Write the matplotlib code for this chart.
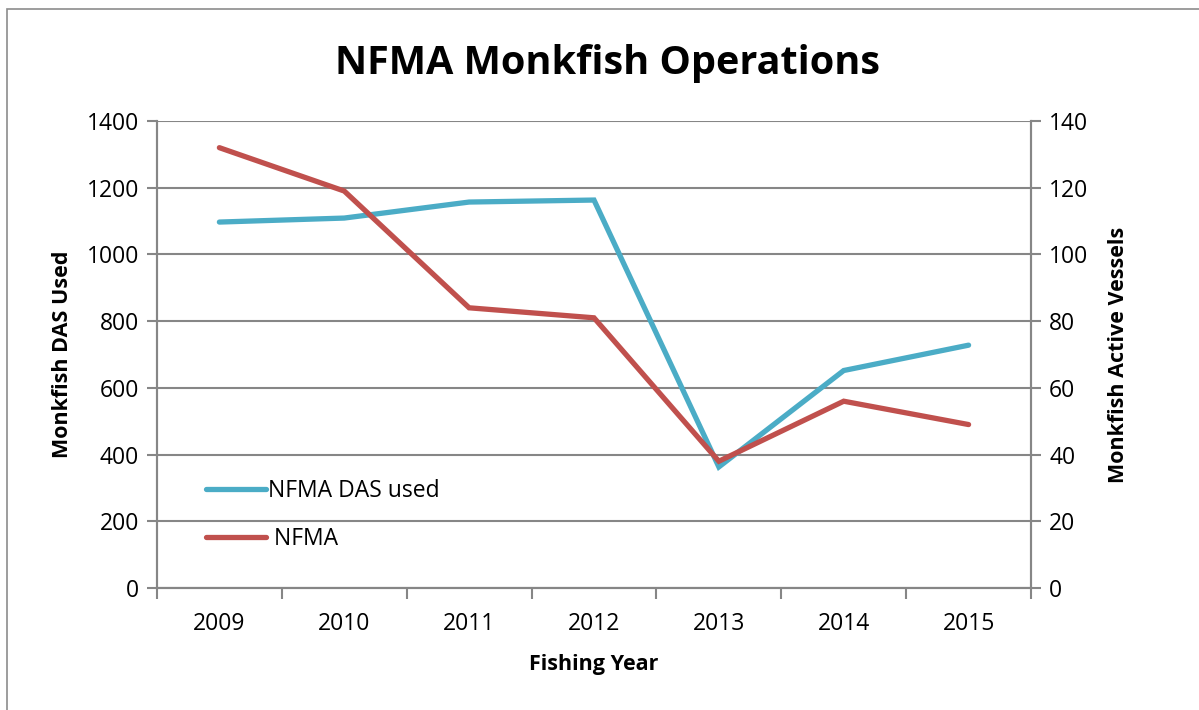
import matplotlib.pyplot as plt
import matplotlib.patches as mpatches
from matplotlib.ticker import FixedLocator, NullFormatter

plt.rcParams['font.family'] = ['Open Sans', 'DejaVu Sans']

years = ['2009', '2010', '2011', '2012', '2013', '2014', '2015']
das_used = [1097, 1109, 1157, 1163, 363, 652, 728]
active_vessels = [132, 119, 84, 81, 38, 56, 49]

BLUE = '#4BACC6'
RED = '#C0504D'
GRID = '#868686'

fig = plt.figure(figsize=(11.99, 7.10), dpi=100)
ax = fig.add_axes([0.1309, 0.1718, 0.7290, 0.6578])
ax2 = ax.twinx()

# outer chart frame
fig.patches.append(mpatches.Rectangle((7 / 1199, -0.05), 1.1, 1 - 9 / 710 + 0.05,
                                      transform=fig.transFigure, fill=False,
                                      edgecolor='#8c8c8c', linewidth=1.2))

x = list(range(len(years)))
l1, = ax.plot(x, das_used, color=BLUE, lw=3.8, solid_capstyle='round',
              solid_joinstyle='miter', label='NFMA DAS used')
l2, = ax2.plot(x, active_vessels, color=RED, lw=3.8, solid_capstyle='round',
               solid_joinstyle='miter', label=' NFMA')

ax.set_xlim(-0.5, len(years) - 0.5)
ax.set_ylim(0, 1400)
ax2.set_ylim(0, 140)
ax.set_yticks(range(0, 1401, 200))
ax2.set_yticks(range(0, 141, 20))

# category labels centred, tick marks between categories
ax.xaxis.set_major_locator(FixedLocator([i - 0.5 for i in range(len(years) + 1)]))
ax.xaxis.set_major_formatter(NullFormatter())
ax.xaxis.set_minor_locator(FixedLocator(x))
ax.set_xticklabels(years, minor=True)
ax.tick_params(axis='x', which='major', length=8, width=1.5, color=GRID, direction='out')
ax.tick_params(axis='x', which='minor', length=0, pad=17, labelsize=16.5)

ax.tick_params(axis='y', length=7, width=1.5, color=GRID, labelsize=16.5, pad=6)
ax2.tick_params(axis='y', length=7, width=1.5, color=GRID, labelsize=16.5, pad=6)

ax.grid(axis='y', color=GRID, linewidth=1.5)
ax.set_axisbelow(True)

for a in (ax, ax2):
    a.spines['top'].set_visible(False)
    for s in ('left', 'right', 'bottom'):
        a.spines[s].set_color(GRID)
        a.spines[s].set_linewidth(1.5)

ax.set_xlabel('Fishing Year', fontsize=15.5, fontweight='bold', labelpad=13)
ax.set_ylabel('Monkfish DAS Used', fontsize=15.5, fontweight='bold', labelpad=10)
ax2.set_ylabel('Monkfish Active Vessels', fontsize=15.5, fontweight='bold', labelpad=14)

fig.text(0.507, 0.91, 'NFMA Monkfish Operations', ha='center', va='center',
         fontsize=28.5, fontweight='bold')

ax2.legend(handles=[l1, l2], loc='lower left', bbox_to_anchor=(0.033, 0.036),
           frameon=False, fontsize=16.5, handlelength=2.6, handletextpad=0.1,
           labelspacing=1.03)

fig.savefig('out.png', dpi=100)
